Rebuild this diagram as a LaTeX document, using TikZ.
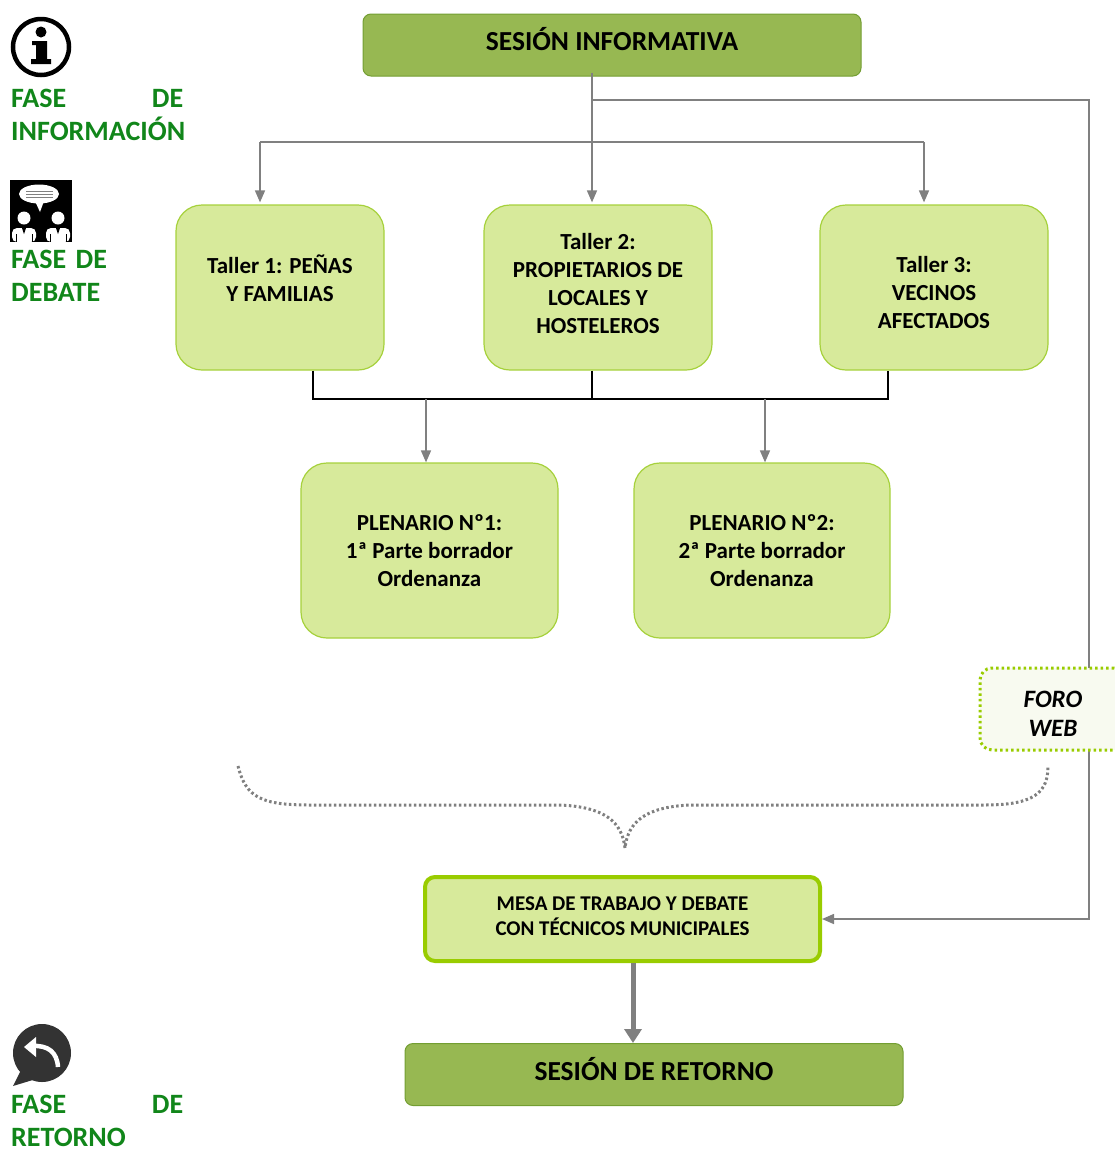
\documentclass[tikz,border=0pt]{standalone}
\usepackage{fontspec}
\setmainfont{Carlito}
\usetikzlibrary{arrows.meta}
\definecolor{sesiongreen}{HTML}{97B852}
\definecolor{sesionedge}{HTML}{739E32}
\definecolor{tallerfill}{HTML}{D7EA9B}
\definecolor{talleredge}{HTML}{A6D13C}
\definecolor{mesaedge}{HTML}{99CC00}
\definecolor{linkgray}{HTML}{808080}
\definecolor{fasegreen}{HTML}{11861A}
\definecolor{forofill}{HTML}{F8FAF0}
\definecolor{icongray}{HTML}{333333}

\begin{document}
\begin{tikzpicture}[x=1pt, y=-1pt,
  sesion/.style={draw=sesionedge, fill=sesiongreen, line width=1pt, rounded corners=8pt,
    minimum width=498pt, minimum height=62pt, text height=20pt, text depth=9pt,
    font=\fontsize{27.5}{32}\selectfont\bfseries},
  taller/.style={draw=talleredge, fill=tallerfill, line width=1.2pt, rounded corners=26pt,
    minimum height=165pt, align=center, font=\fontsize{23}{28}\selectfont\bfseries},
  mesa/.style={draw=mesaedge, fill=tallerfill, line width=4pt, rounded corners=10pt,
    minimum width=395pt, minimum height=84pt, align=center, font=\fontsize{21}{25}\selectfont\bfseries},
  foro/.style={draw=mesaedge, fill=forofill, line width=3pt, dash pattern=on 2.5pt off 3pt,
    rounded corners=12pt, minimum width=146pt, minimum height=82pt, align=center,
    font=\fontsize{25}{29}\selectfont\bfseries\itshape},
  fase/.style={anchor=north west, text width=172pt, align=left, inner sep=0pt, text=fasegreen,
    font=\fontsize{28}{33}\selectfont\bfseries},
  link/.style={draw=linkgray, line width=1.5pt},
  tip/.style={-{Triangle[length=12pt, width=10pt]}},
  joinline/.style={draw=black, line width=1.5pt},
  brace/.style={draw=linkgray, line width=3pt, dash pattern=on 2.5pt off 2.5pt}
  ]
  \useasboundingbox (0,0) rectangle (1115,1149);

  % boxes
  \node[sesion] (SI) at (612,45) {SESIÓN INFORMATIVA};
  \node[taller, minimum width=208pt] (T1) at (280,287.5) {Taller 1: PEÑAS\\Y FAMILIAS\\[-9pt]};
  \node[taller, minimum width=228pt] (T2) at (598,287.5) {Taller 2:\\PROPIETARIOS DE\\LOCALES Y\\HOSTELEROS\\[-20pt]};
  \node[taller, minimum width=228pt] (T3) at (934,287.5) {\mbox{}\\[-2pt]Taller 3:\\VECINOS\\AFECTADOS};
  \node[taller, minimum width=257pt, minimum height=175pt] (P1) at (429.5,550.5) {PLENARIO Nº1:\\1ª Parte borrador\\Ordenanza};
  \node[taller, minimum width=256pt, minimum height=175pt] (P2) at (762,550.5) {PLENARIO Nº2:\\2ª Parte borrador\\Ordenanza};
  \node[mesa] (MESA) at (622.5,919) {MESA DE TRABAJO Y DEBATE\\CON TÉCNICOS MUNICIPALES\\[-19pt]};
  \node[sesion] (SR) at (654,1074.5) {SESIÓN DE RETORNO};

  % connectors
  \coordinate (hub) at (592,100);
  \coordinate (fork) at (592,142);
  \coordinate (forkL) at (260,142);
  \coordinate (forkR) at (924,142);
  \coordinate (loopT) at (1089,100);
  \coordinate (joinL) at (313,399);
  \coordinate (joinM) at (592,399);
  \coordinate (joinR) at (888,399);
  \coordinate (dropL) at (426,399);
  \coordinate (dropR) at (765,399);
  \coordinate (mesaout) at (633,0);

  \draw[link] ([yshift=4pt]SI.south -| hub) -- (hub) -- (fork);
  \draw[link] (forkL) -- (forkR);
  \foreach \c/\t in {forkL/T1, fork/T2, forkR/T3}{
    \draw[link, tip, shorten >=2pt] (\c) -- (\t.north -| \c);
  }
  \draw[link, tip] (hub) -- (loopT) -- (loopT |- MESA.east) -- (MESA.east);

  \draw[joinline] (T1.south -| joinL) -- (joinL) -- (joinR) -- (T3.south -| joinR);
  \draw[joinline] (T2.south -| joinM) -- (joinM);
  \foreach \c/\p in {dropL/P1, dropR/P2}{
    \draw[link, tip] (\c) -- (\p.north -| \c);
  }
  \draw[link, line width=5pt, -{Triangle[length=14pt, width=17pt]}] (MESA.south -| mesaout) -- (SR.north -| mesaout);

  % foro web over the loop line
  \node[foro] (FORO) at (1053,709) {\mbox{}\\[-3pt]FORO\\WEB};

  % dotted brace
  \draw[brace] (238,766) .. controls (246,798) and (262,805) .. (310,805) -- (560,805)
    .. controls (605,807) and (622,822) .. (625,848)
    .. controls (628,822) and (645,807) .. (690,805) -- (985,805)
    .. controls (1035,805) and (1048,792) .. (1048,766);

  % phase labels
  \node[fase] (fInfo) at (11,89) {FASE\hfill DE\\INFORMACIÓN};
  \node[fase] (fDebate) at (11,250) {FASE DE\\DEBATE};
  \node[fase] (fRetorno) at (11,1095) {FASE\hfill DE\\RETORNO};

  % information icon
  \draw[line width=4.5pt] (41,47) circle[radius=28pt];
  \fill (41,32) circle[radius=5.5pt];
  \fill (32,41) -- (47,41) -- (47,59) -- (51,59) -- (51,64) -- (31,64) -- (31,59) -- (36,59)
    -- (36,45) -- (32,45) -- cycle;

  % debate icon
  \fill[black] (10,180) rectangle (72,242);
  \fill[white] (39,194) ellipse[x radius=20pt, y radius=9.5pt];
  \fill[white] (35,201) -- (44,201) -- (40,212) -- cycle;
  \foreach \y in {191,194,197}{
    \draw[gray, line width=1pt] (26,\y) -- (53,\y);
  }
  \foreach \x in {24,58}{
    \fill[white] (\x,218) circle[radius=6.5pt];
    \fill[white, rounded corners=5pt] (\x-12,242) -- (\x-12,228) -- (\x+12,228) -- (\x+12,242) -- cycle;
    \fill[black] (\x-2,228) -- (\x+2,228) -- (\x,234) -- cycle;
    \draw[black, line width=0.8pt] (\x-8,234) -- (\x-8,242) (\x+8,234) -- (\x+8,242);
  }

  % return icon
  \fill[icongray] (42,1053) circle[radius=29pt];
  \fill[icongray] (22,1068) -- (13,1086) -- (36,1079) -- cycle;
  \draw[white, line width=4.5pt] (32,1046) .. controls (48,1045) and (57,1052) .. (58,1067);
  \fill[white] (24,1047) -- (36,1037) -- (36,1057) -- cycle;
\end{tikzpicture}
\end{document}
